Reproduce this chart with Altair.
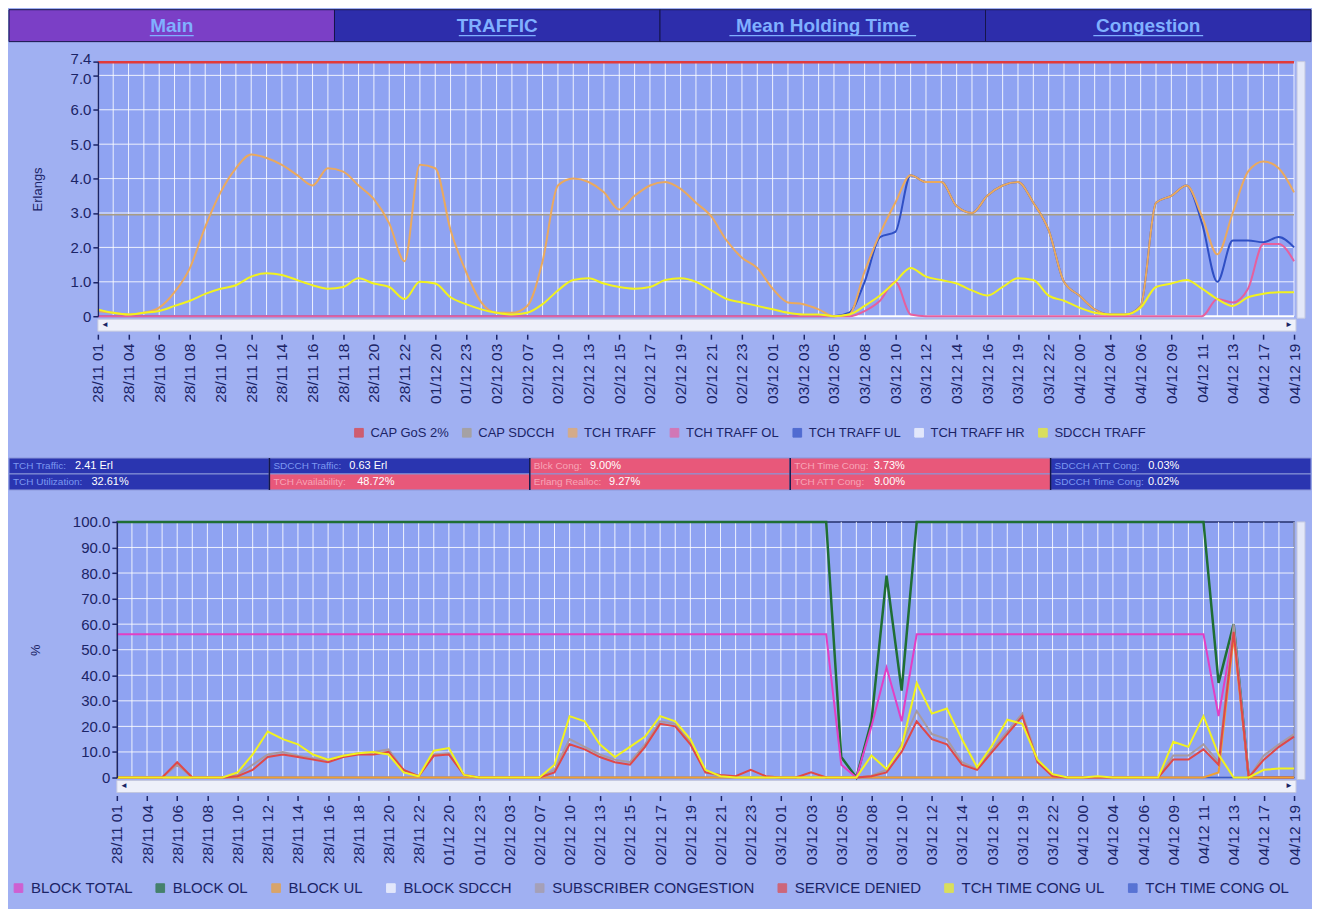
import json
import altair as alt
import pandas as pd

FONT = "Liberation Sans, Arial, Helvetica, sans-serif"
NAVY = "#1b2466"
OUTER_BG = "#a0b0f2"
PLOT_BG = "#8fa3f2"
GRID_COLOR = "#ffffff"

# ---------------- tabs ----------------
TABS = ["Main", "TRAFFIC", "Mean Holding Time", "Congestion"]
TAB_FILLS = ["#7b3fc6", "#2d2dab", "#2d2dab", "#2d2dab"]

# ---------------- x labels (one every second sample) ----------------
X_LABELS = ["28/11 01", "28/11 04", "28/11 06", "28/11 08", "28/11 10", "28/11 12", "28/11 14",
            "28/11 16", "28/11 18", "28/11 20", "28/11 22", "01/12 20", "01/12 23", "02/12 03",
            "02/12 07", "02/12 10", "02/12 13", "02/12 15", "02/12 17", "02/12 19", "02/12 21",
            "02/12 23", "03/12 01", "03/12 03", "03/12 05", "03/12 08", "03/12 10", "03/12 12",
            "03/12 14", "03/12 16", "03/12 19", "03/12 22", "04/12 00", "04/12 04", "04/12 06",
            "04/12 09", "04/12 11", "04/12 13", "04/12 17", "04/12 19"]
N_POINTS = 79

# ---------------- top chart (Erlangs) ----------------
TOP_SERIES = ["CAP GoS 2%", "CAP SDCCH", "TCH TRAFF", "TCH TRAFF OL", "TCH TRAFF UL",
              "TCH TRAFF HR", "SDCCH TRAFF"]
TOP_COLORS = ["#e23a3a", "#a89c84", "#eaa95e", "#e6609e", "#2f4fc4", "#ffffff", "#f2f21e"]
TOP_DRAW_ORDER = ["CAP SDCCH", "CAP GoS 2%", "TCH TRAFF HR", "TCH TRAFF UL", "TCH TRAFF",
                  "TCH TRAFF OL", "SDCCH TRAFF"]
Y_TICKS_TOP = [0, 1, 2, 3, 4, 5, 6, 7, 7.4]

CAP_GOS = [7.38] * N_POINTS
CAP_SDCCH = [2.95] * N_POINTS
TCH_TRAFF = [0.15, 0.1, 0.05, 0.1, 0.25, 0.7, 1.4, 2.6, 3.6, 4.3,
             4.7, 4.6, 4.4, 4.1, 3.8, 4.3, 4.2, 3.8, 3.4, 2.7,
             1.6, 4.4, 4.3, 2.5, 1.3, 0.4, 0.1, 0.1, 0.3, 1.6,
             3.8, 4.0, 3.9, 3.6, 3.1, 3.5, 3.8, 3.9, 3.7, 3.3,
             2.9, 2.2, 1.7, 1.4, 0.8, 0.4, 0.35, 0.2, 0.0, 0.05,
             1.3, 2.4, 3.3, 4.1, 3.9, 3.9, 3.2, 3.0, 3.5, 3.8,
             3.9, 3.3, 2.5, 1.0, 0.6, 0.2, 0.05, 0.05, 0.3, 3.3,
             3.5, 3.8, 2.9, 1.8, 3.0, 4.2, 4.5, 4.3, 3.6]
TCH_TRAFF_OL = [0.0] * 50 + [0.15, 0.45, 1.0, 0.05] + [0.0] * 19 + [0.5, 0.4, 0.8, 2.1, 2.1, 1.6]
TCH_TRAFF_UL = ([0.0] * 49 + [0.1, 1.0, 2.3, 2.45, 4.1,
                               3.9, 3.9, 3.2, 3.0, 3.5, 3.8, 3.9, 3.3, 2.5, 1.0, 0.6, 0.2, 0.05, 0.05, 0.3, 3.3, 3.5,
                               3.8, 2.7, 1.0, 2.2, 2.2, 2.15, 2.3, 2.0])
TCH_TRAFF_HR = [0.0] * N_POINTS
SDCCH_TRAFF = [0.2, 0.1, 0.05, 0.1, 0.15, 0.3, 0.45, 0.65, 0.8, 0.9,
               1.15, 1.25, 1.2, 1.05, 0.9, 0.8, 0.85, 1.1, 0.95, 0.85,
               0.5, 1.0, 0.95, 0.55, 0.35, 0.2, 0.1, 0.05, 0.1, 0.35,
               0.75, 1.05, 1.1, 0.95, 0.85, 0.8, 0.85, 1.05, 1.1, 1.0,
               0.75, 0.5, 0.4, 0.3, 0.2, 0.1, 0.05, 0.05, 0.0, 0.05,
               0.3, 0.6, 1.0, 1.4, 1.15, 1.05, 0.95, 0.75, 0.6, 0.85,
               1.1, 1.05, 0.6, 0.45, 0.25, 0.1, 0.05, 0.05, 0.25, 0.85,
               0.95, 1.05, 0.8, 0.5, 0.3, 0.55, 0.65, 0.7, 0.7]
TOP_VALUES = [CAP_GOS, CAP_SDCCH, TCH_TRAFF, TCH_TRAFF_OL, TCH_TRAFF_UL, TCH_TRAFF_HR, SDCCH_TRAFF]

# ---------------- status bar ----------------
STATUS_LABELS = ["TCH Traffic:", "SDCCH Traffic:", "Blck Cong:", "TCH Time Cong:", "SDCCH ATT Cong:",
                 "TCH Utilization:", "TCH Availability:", "Erlang Realloc:", "TCH ATT Cong:", "SDCCH Time Cong:"]
STATUS_VALUES = ["2.41 Erl", "0.63 Erl", "9.00%", "3.73%", "0.03%",
                 "32.61%", "48.72%", "9.27%", "9.00%", "0.02%"]
STATUS_ALERT = [0, 0, 1, 1, 0, 0, 1, 1, 1, 0]
STATUS_COL = [0, 1, 2, 3, 4, 0, 1, 2, 3, 4]
STATUS_ROW = [0, 0, 0, 0, 0, 1, 1, 1, 1, 1]

# ---------------- bottom chart (%) ----------------
BOT_SERIES = ["BLOCK TOTAL", "BLOCK OL", "BLOCK UL", "BLOCK SDCCH", "SUBSCRIBER CONGESTION",
              "SERVICE DENIED", "TCH TIME CONG UL", "TCH TIME CONG OL"]
BOT_COLORS = ["#e23fc4", "#1f6e34", "#f0a032", "#ffffff", "#a89aa0", "#e04848", "#f2f21e", "#3a5ac8"]
BOT_DRAW_ORDER = ["BLOCK SDCCH", "TCH TIME CONG OL", "BLOCK OL", "BLOCK TOTAL", "BLOCK UL",
                  "SUBSCRIBER CONGESTION", "SERVICE DENIED", "TCH TIME CONG UL"]
Y_TICKS_BOT = [0, 10, 20, 30, 40, 50, 60, 70, 80, 90, 100]

BLOCK_TOTAL = [56.0] * 48 + [5, 0, 20, 43, 22] + [56.0] * 20 + [24, 58, 0, 0, 0, 0]
BLOCK_OL = [100.0] * 48 + [8, 0, 22, 79, 34] + [100.0] * 20 + [37, 60, 0, 0, 0, 0]
BLOCK_UL = [0.0] * 73 + [2, 55, 0, 0, 0, 0]
BLOCK_SDCCH = [0.0] * N_POINTS
SUBSCRIBER_CONG = [0, 0, 0, 0, 5, 0, 0, 0,
                   1, 5, 9, 10, 8.5, 7.5, 7, 8.5, 9.5, 10, 11, 3,
                   0.5, 9, 9.5, 1, 0, 0, 0, 0, 0, 3,
                   15, 12, 9, 7, 6, 13, 22, 21, 14, 2,
                   0.5, 0, 0, 0, 0, 0, 0, 0, 0, 0,
                   0.7, 3, 13, 26, 17, 15, 6, 3.3, 11, 18,
                   25, 7, 0.7, 0, 0, 0, 0, 0, 0, 0,
                   8.6, 8.6, 13, 6, 60, 0, 8.6, 13, 17]
SERVICE_DENIED = [0, 0, 0, 0, 6, 0, 0, 0,
                  0.5, 3, 8, 9, 8, 7, 6, 8, 9, 9, 10, 3,
                  0.5, 8.5, 9, 1, 0, 0, 0, 0, 0, 2,
                  13, 11, 8, 6, 5, 12, 21, 20, 13, 2,
                  1, 0.5, 3, 0.5, 0, 0, 2, 0, 0, 0,
                  0.5, 2, 10, 22, 15, 13, 5, 3, 10, 17,
                  24, 6, 0.5, 0, 0, 0, 0, 0, 0, 0,
                  7, 7, 11, 5, 57, 0, 7, 12, 16]
TCH_TIME_CONG_UL = [0, 0, 0, 0, 0, 0, 0, 0,
                    2, 9, 18, 15, 13, 9, 7, 8.5, 9.5, 10, 9, 2,
                    0.5, 10.5, 11.5, 1, 0, 0, 0, 0, 0, 5,
                    24, 22, 13, 8, 12, 16, 24, 22, 15, 3,
                    0.5, 0, 0, 0, 0, 0, 0, 0, 0, 0,
                    8.6, 3.3, 12, 37, 25, 27, 15, 4, 12.6, 22.6,
                    21, 7, 1.3, 0, 0, 0.5, 0, 0, 0, 0,
                    14, 12, 24, 9, 0, 0, 3, 3.5, 3.5]
TCH_TIME_CONG_OL = [0.0] * N_POINTS
BOT_VALUES = [BLOCK_TOTAL, BLOCK_OL, BLOCK_UL, BLOCK_SDCCH, SUBSCRIBER_CONG, SERVICE_DENIED,
              TCH_TIME_CONG_UL, TCH_TIME_CONG_OL]

LABEL_EXPR = json.dumps(X_LABELS) + "[round(datum.value / 2)]"
Y_LABEL_EXPR = "datum.value == 0 ? '0' : format(datum.value, '.1f')"
TOTAL_W = 1304


def long_df(names, arrays):
    rows = []
    for name, arr in zip(names, arrays):
        for i, v in enumerate(arr):
            rows.append({"i": i, "s": name, "v": v})
    return pd.DataFrame(rows)


def spacer(h):
    return alt.Chart(pd.DataFrame({"z": [0]})).mark_point(opacity=0).encode(
        x=alt.X("z:Q", axis=None), y=alt.Y("z:Q", axis=None)
    ).properties(width=TOTAL_W, height=h)


def line_panel(df, series, colors, order, y_ticks, y_max, y_title, title_pad, grid_h,
               left, pw, h, legend_x, legend_y, legend_size, legend_pad, interp, line_w, frame):
    # the panel spans the full dashboard width; the plot occupies [left, left + pw]
    step = pw / (N_POINTS - 1)
    x_min = -left / step
    x_max = (N_POINTS - 1) + (TOTAL_W - left - pw) / step
    xs = alt.Scale(domain=[x_min, x_max], nice=False, zero=False)
    ys = alt.Scale(domain=[0, y_max], nice=False, zero=False)
    cs = alt.Scale(domain=series, range=colors)
    x_axis = alt.Axis(values=list(range(0, N_POINTS, 2)), labelExpr=LABEL_EXPR, labelAngle=-90,
                      labelFont=FONT, labelFontSize=15.5, labelColor=NAVY, labelOverlap=False,
                      labelPadding=4, offset=18, domain=False, grid=False, tickSize=5,
                      tickColor=NAVY, tickWidth=1.5, title=None, zindex=1)
    y_axis = alt.Axis(values=y_ticks, labelExpr=Y_LABEL_EXPR, labelFont=FONT, labelFontSize=15,
                      labelColor=NAVY, labelOverlap=False, labelPadding=2, domain=True,
                      labelOffset={"condition": [{"test": "datum.value == 7.4", "value": -3},
                                                 {"test": "datum.value == 7", "value": 3}],
                                   "value": 0},
                      domainColor=NAVY, domainWidth=1.5, tickSize=5, tickColor=NAVY, tickWidth=1.5,
                      grid=False, title=y_title, titleFont=FONT, titleFontSize=13,
                      titleFontWeight="normal", titleColor=NAVY, titlePadding=title_pad,
                      offset=-left, zindex=1)

    # first layer: carries axes + legend (draws no mark itself)
    guide = alt.Chart(df).transform_filter("false").mark_square(filled=True).encode(
        x=alt.X("i:Q", scale=xs, axis=x_axis),
        y=alt.Y("v:Q", scale=ys, axis=y_axis),
        color=alt.Color("s:N", scale=cs, legend=alt.Legend(
            orient="none", legendX=legend_x, legendY=legend_y, direction="horizontal",
            columns=len(series), title=None, symbolType="square", symbolSize=75,
            symbolStrokeColor="#2a2a50", symbolStrokeWidth=1, labelFont=FONT,
            labelFontSize=legend_size, labelColor=NAVY, labelOffset=5, columnPadding=legend_pad,
            labelLimit=400)))

    bg_df = pd.DataFrame({"x0": [0], "x1": [N_POINTS - 1], "y0": [0], "y1": [y_max]})
    bg = alt.Chart(bg_df).mark_rect(fill=PLOT_BG, stroke=frame if frame else PLOT_BG,
                                    strokeWidth=1.5).encode(
        x=alt.X("x0:Q", scale=xs, axis=None), x2="x1:Q",
        y=alt.Y("y0:Q", scale=ys, axis=None), y2="y1:Q")

    grid_v_df = pd.DataFrame({"g": list(range(N_POINTS)), "y0": 0, "y1": y_max})
    grid_h_df = pd.DataFrame({"h": grid_h, "x0": 0, "x1": N_POINTS - 1})
    gv = alt.Chart(grid_v_df).mark_rule(color=GRID_COLOR, strokeWidth=1, opacity=0.85).encode(
        x=alt.X("g:Q", scale=xs, axis=None), y=alt.Y("y0:Q", scale=ys, axis=None), y2="y1:Q")
    gh = alt.Chart(grid_h_df).mark_rule(color=GRID_COLOR, strokeWidth=1, opacity=0.85).encode(
        y=alt.Y("h:Q", scale=ys, axis=None), x=alt.X("x0:Q", scale=xs, axis=None), x2="x1:Q")

    # scroll bars (decoration)
    deco = pd.DataFrame({"a": [0]})
    right = left + pw
    hbar = alt.Chart(deco).mark_rect(color="#eef0fa", stroke="#c4c8e0", strokeWidth=1).encode(
        x=alt.value(left), x2=alt.value(right + 2), y=alt.value(h + 3), y2=alt.value(h + 15))
    vbar = alt.Chart(deco).mark_rect(color="#e4e8f8", stroke="#c4c8e0", strokeWidth=1).encode(
        x=alt.value(right + 3), x2=alt.value(right + 11), y=alt.value(0), y2=alt.value(h + 2))
    larrow = alt.Chart(deco).mark_text(text="◄", fontSize=8, color=NAVY).encode(
        x=alt.value(left + 7), y=alt.value(h + 9))
    rarrow = alt.Chart(deco).mark_text(text="►", fontSize=8, color=NAVY).encode(
        x=alt.value(right - 5), y=alt.value(h + 9))

    layers = [guide, bg, gv, gh, hbar, vbar, larrow, rarrow]
    for name in order:
        lw = line_w.get(name, 2)
        layer = alt.Chart(df).transform_filter(alt.datum.s == name).mark_line(
            strokeWidth=lw, interpolate=interp).encode(
            x=alt.X("i:Q", scale=xs, axis=None), y=alt.Y("v:Q", scale=ys, axis=None),
            color=alt.Color("s:N", scale=cs))
        layers.append(layer)
    return alt.layer(*layers).resolve_axis(x="independent", y="independent").properties(
        width=TOTAL_W, height=h)


# ---------------- tabs panel ----------------
tab_df = pd.DataFrame({"t": TABS, "c": TAB_FILLS, "k": list(range(len(TABS)))})
tab_base = alt.Chart(tab_df).transform_calculate(
    k2="datum.k + 1", kc="datum.k + 0.5",
    u0="datum.k + 0.5 - length(datum.t) * 5.5 / 326",
    u1="datum.k + 0.5 + length(datum.t) * 5.5 / 326")
tab_x = alt.Scale(domain=[0, len(TABS)], nice=False, zero=False)
tab_rect = tab_base.mark_rect(stroke="#15154a", strokeWidth=1).encode(
    x=alt.X("k:Q", scale=tab_x, axis=None), x2="k2:Q",
    y=alt.value(0), y2=alt.value(32), color=alt.Color("c:N", scale=None))
tab_text = tab_base.mark_text(font=FONT, fontSize=19, fontWeight="bold", color="#80b0ff",
                              baseline="middle").encode(
    x=alt.X("kc:Q", scale=tab_x, axis=None), y=alt.value(16), text="t:N")
tab_line = tab_base.mark_rule(color="#80b0ff", strokeWidth=1.3).encode(
    x=alt.X("u0:Q", scale=tab_x, axis=None), x2="u1:Q", y=alt.value(26))
tabs = alt.layer(tab_rect, tab_text, tab_line).properties(width=TOTAL_W, height=32)

# ---------------- status panel ----------------
st_df = pd.DataFrame({"lab": STATUS_LABELS, "val": STATUS_VALUES, "alert": STATUS_ALERT,
                      "col": STATUS_COL, "row": STATUS_ROW})
st_base = alt.Chart(st_df).transform_calculate(
    col2="datum.col + 1", row2="datum.row + 1", rowc="datum.row + 0.5",
    up="length(replace(datum.lab, regexp('[^A-HJ-Z]', 'g'), ''))",
    nar="length(replace(datum.lab, regexp('[^ilftrjI: ]', 'g'), ''))",
).transform_calculate(
    oth="length(datum.lab) - datum.up - datum.nar",
).transform_calculate(
    lx="datum.col + 4 / 260.8",
    vx="datum.col + (4 + (datum.up * 0.69 + datum.nar * 0.28 + datum.oth * 0.54) * 10 + 7) / 260.8")
st_x = alt.Scale(domain=[0, 5], nice=False, zero=False)
st_y = alt.Scale(domain=[0, 2], nice=False, zero=False, reverse=True)
st_rect = st_base.mark_rect(stroke="#8a96d8", strokeWidth=1).encode(
    x=alt.X("col:Q", scale=st_x, axis=None), x2="col2:Q",
    y=alt.Y("row:Q", scale=st_y, axis=None), y2="row2:Q",
    color=alt.condition("datum.alert == 1", alt.value("#e8587a"), alt.value("#2a35b0")))
st_sep = st_base.transform_filter("datum.row == 0 && datum.col > 0").mark_rule(
    color="#14184a", strokeWidth=1.5).encode(
    x=alt.X("col:Q", scale=st_x, axis=None), y=alt.value(0), y2=alt.value(32))
st_lab = st_base.mark_text(font=FONT, fontSize=10, align="left", baseline="middle").encode(
    x=alt.X("lx:Q", scale=st_x, axis=None), y=alt.Y("rowc:Q", scale=st_y, axis=None),
    text="lab:N",
    color=alt.condition("datum.alert == 1", alt.value("#f7a6b8"), alt.value("#7c98f0")))
st_val = st_base.mark_text(font=FONT, fontSize=11, align="left", baseline="middle",
                           color="#ffffff").encode(
    x=alt.X("vx:Q", scale=st_x, axis=None), y=alt.Y("rowc:Q", scale=st_y, axis=None),
    text="val:N")
status = alt.layer(st_rect, st_sep, st_lab, st_val).properties(width=TOTAL_W, height=32)

# ---------------- charts ----------------
top_df = long_df(TOP_SERIES, TOP_VALUES)
bot_df = long_df(BOT_SERIES, BOT_VALUES)

top_chart = line_panel(top_df, TOP_SERIES, TOP_COLORS, TOP_DRAW_ORDER, Y_TICKS_TOP, 7.4, "Erlangs", 26,
                       [1, 2, 3, 4, 5, 6, 7], 89, 1198, 255, 344, 365, 13, 11, "monotone",
                       {"CAP GoS 2%": 2.5, "CAP SDCCH": 1.5}, None)
bot_chart = line_panel(bot_df, BOT_SERIES, BOT_COLORS, BOT_DRAW_ORDER, Y_TICKS_BOT, 100, "%", 30,
                       [10, 20, 30, 40, 50, 60, 70, 80, 90], 108, 1179, 256, 2, 359, 15, 20, "linear",
                       {"BLOCK OL": 2.5}, "#24306e")

indep = dict(x="independent", y="independent", color="independent")
chart = alt.vconcat(
    tabs, spacer(20), top_chart, spacer(142), status, spacer(32), bot_chart, spacer(132),
    spacing=0, bounds="flush"
).resolve_scale(**indep).configure(
    background=OUTER_BG, padding=0
).configure_view(stroke=None)

chart.save("out.html", embed_options={"renderer": "svg", "actions": False})
